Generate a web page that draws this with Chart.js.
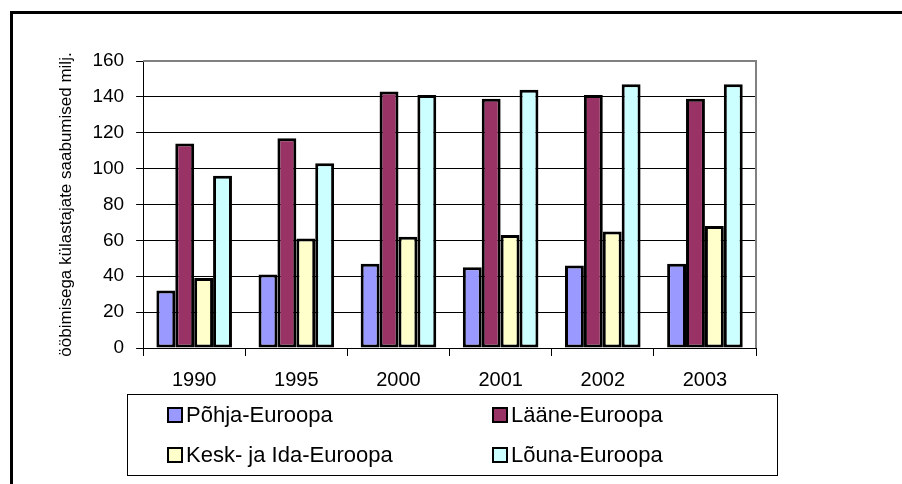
<!DOCTYPE html>
<html>
<head>
<meta charset="utf-8">
<script src="https://cdn.jsdelivr.net/npm/chart.js@4"></script>
<style>
  html, body { margin: 0; padding: 0; background: #fff; }
  #wrap { width: 902px; height: 484px; position: relative; }
</style>
</head>
<body>
<div id="wrap"><canvas id="c" width="902" height="484"></canvas></div>
<script>
// aastad
const years = ["1990", "1995", "2000", "2001", "2002", "2003"];

// regioonid (milj.)
const pohja = [32, 41, 47, 45, 46, 47];
const laane = [114, 117, 143, 139, 141, 139];
const keskIda = [39, 61, 62, 63, 65, 68];
const louna = [96, 103, 141, 144, 147, 147];

const seriesNames = ["Põhja-Euroopa", "Lääne-Euroopa", "Kesk- ja Ida-Euroopa", "Lõuna-Euroopa"];
const seriesColors = ["#9999FF", "#993366", "#FFFFCC", "#CCFFFF"];
const yTitle = "ööbimisega külastajate saabumised milj.";

Chart.defaults.font.family = "'Liberation Sans', Arial, sans-serif";
Chart.defaults.color = "#000";

// raam, graafiku ülemine/parem serv ja legend kastis (2 veergu)
const framePlugin = {
  id: "frame",
  afterDraw(chart) {
    const ctx = chart.ctx;
    const a = chart.chartArea;
    ctx.save();
    // välisraam
    ctx.strokeStyle = "#000";
    ctx.lineWidth = 3;
    ctx.beginPath();
    ctx.moveTo(11.5, 490);
    ctx.lineTo(11.5, 12.5);
    ctx.lineTo(910, 12.5);
    ctx.stroke();

    // hall ülemine ja parem serv
    ctx.strokeStyle = "#808080";
    ctx.lineWidth = 2;
    ctx.beginPath();
    ctx.moveTo(a.left, a.top);
    ctx.lineTo(a.right, a.top);
    ctx.lineTo(a.right, a.bottom);
    ctx.stroke();

    // legend
    const bx = 127.5, by = 394.5, bw = 650, bh = 81;
    ctx.strokeStyle = "#000";
    ctx.lineWidth = 1;
    ctx.strokeRect(bx, by, bw, bh);
    ctx.font = "22px 'Liberation Sans', Arial, sans-serif";
    ctx.textBaseline = "middle";
    ctx.textAlign = "left";
    const cols = [168, 493];
    const rows = [415, 455];
    chart.data.datasets.forEach((ds, i) => {
      const x = cols[i % 2];
      const y = rows[Math.floor(i / 2)];
      ctx.fillStyle = ds.backgroundColor;
      ctx.fillRect(x, y - 7, 14, 14);
      ctx.lineWidth = 2;
      ctx.strokeStyle = "#000";
      ctx.strokeRect(x, y - 7, 14, 14);
      ctx.fillStyle = "#000";
      ctx.fillText(ds.label, x + 18, y + 1);
    });
    ctx.restore();
  },
};

const allSeries = [pohja, laane, keskIda, louna];

new Chart(document.getElementById("c"), {
  type: "bar",
  data: {
    labels: years,
    datasets: allSeries.map((vals, i) => ({
      label: seriesNames[i],
      data: vals,
      backgroundColor: seriesColors[i],
      borderColor: "#000",
      borderWidth: 3,
      borderSkipped: false,
      categoryPercentage: 0.74,
      barPercentage: 1.0,
    })),
  },
  options: {
    responsive: false,
    animation: false,
    events: [],
    layout: { padding: { left: 56, top: 61, right: 146, bottom: 80 } },
    plugins: {
      legend: { display: false },
      tooltip: { enabled: false },
    },
    scales: {
      x: {
        grid: {
          offset: true,
          drawOnChartArea: false,
          drawTicks: true,
          tickLength: 8,
          color: "#000",
        },
        border: { display: true, color: "#000", width: 1 },
        ticks: { font: { size: 20 }, padding: 12, color: "#000" },
      },
      y: {
        min: 0,
        max: 160,
        ticks: { stepSize: 20, font: { size: 19 }, padding: 12, color: "#000" },
        grid: { color: "#000", lineWidth: 1, tickLength: 7 },
        border: { display: true, color: "#000", width: 1 },
        title: {
          display: true,
          text: yTitle,
          font: { size: 17 },
          color: "#000",
          padding: { top: 0, bottom: 4 },
        },
      },
    },
  },
  plugins: [framePlugin],
});
</script>
</body>
</html>
